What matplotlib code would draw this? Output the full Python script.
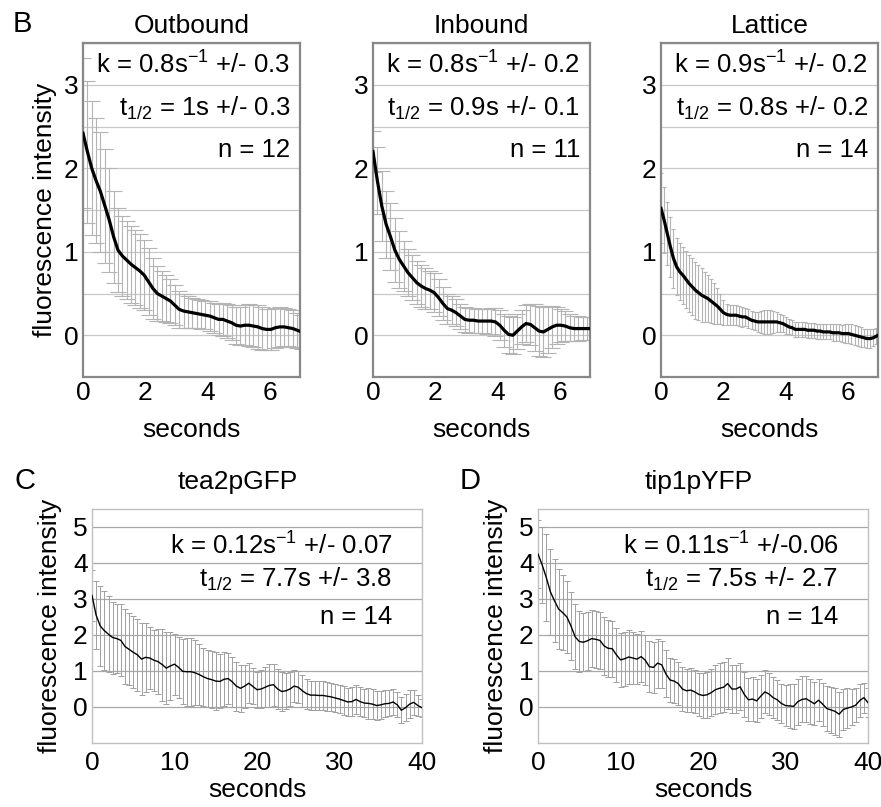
# FRAP style recovery curves, panels B/C/D
import numpy as np
import matplotlib
matplotlib.use('Agg')
import matplotlib.pyplot as plt

plt.rcParams['font.family'] = ['Liberation Sans', 'DejaVu Sans']
plt.rcParams['mathtext.fontset'] = 'custom'
plt.rcParams['mathtext.rm'] = 'Liberation Sans'

# ---- data ----
# top row, sampling times (s)
t_top = np.arange(51) * 0.14
t_lat = np.arange(71) * 0.1

out_mean = [2.42, 2.2, 2.0, 1.85, 1.72, 1.55, 1.38, 1.18, 1.02, 0.95,
            0.9, 0.85, 0.81, 0.77, 0.72, 0.64, 0.56, 0.5, 0.47, 0.44,
            0.41, 0.36, 0.31, 0.29, 0.28, 0.27, 0.26, 0.25, 0.24, 0.23,
            0.21, 0.19, 0.19, 0.17, 0.15, 0.12, 0.11, 0.12, 0.12, 0.11,
            0.1, 0.08, 0.07, 0.07, 0.09, 0.1, 0.1, 0.09, 0.08, 0.06,
            0.04]
out_err = [0.9, 0.85, 0.8, 0.75, 0.72, 0.68, 0.62, 0.55, 0.5, 0.48,
           0.47, 0.46, 0.45, 0.44, 0.42, 0.4, 0.36, 0.33, 0.3, 0.28,
           0.26, 0.24, 0.22, 0.2, 0.19, 0.18, 0.17, 0.17, 0.17, 0.18,
           0.18, 0.19, 0.2, 0.2, 0.21, 0.22, 0.23, 0.24, 0.25, 0.25,
           0.26, 0.26, 0.25, 0.25, 0.24, 0.24, 0.23, 0.22, 0.22, 0.21,
           0.2]

in_mean = [2.2, 1.85, 1.55, 1.33, 1.18, 1.02, 0.91, 0.83, 0.75, 0.69,
           0.63, 0.59, 0.56, 0.54, 0.51, 0.45, 0.38, 0.32, 0.3, 0.27,
           0.23, 0.19, 0.18, 0.18, 0.17, 0.17, 0.17, 0.17, 0.16, 0.12,
           0.06, 0.01, 0.0, 0.05, 0.1, 0.14, 0.13, 0.09, 0.05, 0.04,
           0.07, 0.1, 0.12, 0.12, 0.11, 0.09, 0.08, 0.08, 0.08, 0.08,
           0.08]
in_err = [0.25, 0.4, 0.42, 0.4, 0.4, 0.38, 0.34, 0.3, 0.28, 0.27,
          0.26, 0.25, 0.24, 0.23, 0.23, 0.22, 0.2, 0.18, 0.17, 0.16,
          0.15, 0.15, 0.15, 0.15, 0.14, 0.14, 0.15, 0.16, 0.17, 0.18,
          0.2, 0.22, 0.22, 0.21, 0.2, 0.22, 0.25, 0.28, 0.3, 0.3,
          0.28, 0.25, 0.22, 0.2, 0.18, 0.16, 0.15, 0.15, 0.14, 0.14,
          0.14]

lat_mean = [1.52, 1.38, 1.22, 1.06, 0.92, 0.82, 0.76, 0.72, 0.67, 0.62,
            0.58, 0.54, 0.51, 0.48, 0.46, 0.44, 0.41, 0.38, 0.35, 0.31,
            0.27, 0.25, 0.24, 0.24, 0.24, 0.23, 0.22, 0.22, 0.2, 0.18,
            0.17, 0.16, 0.16, 0.16, 0.16, 0.16, 0.16, 0.16, 0.15, 0.14,
            0.12, 0.1, 0.09, 0.07, 0.07, 0.07, 0.07, 0.06, 0.06, 0.06,
            0.05, 0.05, 0.04, 0.04, 0.04, 0.03, 0.03, 0.03, 0.02, 0.02,
            0.02, 0.01, 0.0, -0.01, -0.02, -0.03, -0.04, -0.04, -0.03, -0.01,
            0.01]
lat_err = [0.42, 0.4, 0.38, 0.36, 0.35, 0.34, 0.34, 0.34, 0.34, 0.34,
           0.34, 0.34, 0.33, 0.32, 0.3, 0.28, 0.26, 0.24, 0.21, 0.18,
           0.15, 0.13, 0.12, 0.12, 0.12, 0.12, 0.12, 0.11, 0.11, 0.11,
           0.11, 0.12, 0.13, 0.14, 0.14, 0.14, 0.13, 0.12, 0.11, 0.1,
           0.1, 0.09, 0.09, 0.09, 0.09, 0.09, 0.09, 0.09, 0.09, 0.09,
           0.09, 0.09, 0.09, 0.09, 0.09, 0.1, 0.1, 0.1, 0.1, 0.11,
           0.11, 0.12, 0.12, 0.12, 0.12, 0.11, 0.11, 0.11, 0.1, 0.1,
           0.1]

# bottom row, 0.5 s frames
t_bot = np.arange(81) * 0.5

tea_mean = [3.1, 2.55, 2.25, 2.12, 2.02, 1.93, 1.9, 1.85, 1.68, 1.6,
            1.52, 1.45, 1.33, 1.38, 1.36, 1.3, 1.26, 1.18, 1.08, 1.14,
            1.19, 1.1, 0.99, 0.98, 0.98, 0.95, 0.9, 0.84, 0.79, 0.76,
            0.72, 0.71, 0.77, 0.79, 0.7, 0.58, 0.52, 0.58, 0.66, 0.57,
            0.48, 0.5, 0.55, 0.6, 0.62, 0.5, 0.43, 0.45, 0.5, 0.58,
            0.55, 0.45, 0.37, 0.33, 0.33, 0.32, 0.32, 0.3, 0.28, 0.25,
            0.22, 0.18, 0.14, 0.15, 0.21, 0.15, 0.11, 0.1, 0.08, 0.04,
            0.06, 0.09, 0.1, 0.14, 0.06, -0.09, -0.02, 0.08, 0.13, 0.04,
            -0.02]
tea_err = [0.7, 0.95, 1.1, 1.1, 1.05, 1.0, 0.95, 1.0, 1.05, 1.0,
           1.0, 1.0, 1.0, 0.95, 0.85, 0.85, 0.9, 1.0, 1.0, 0.95,
           0.85, 0.85, 0.9, 0.95, 0.95, 0.9, 0.85, 0.8, 0.8, 0.8,
           0.8, 0.75, 0.75, 0.72, 0.7, 0.68, 0.65, 0.6, 0.55, 0.5,
           0.5, 0.52, 0.55, 0.6, 0.58, 0.55, 0.55, 0.5, 0.48, 0.45,
           0.45, 0.45, 0.42, 0.4, 0.4, 0.4, 0.4, 0.4, 0.4, 0.4,
           0.4, 0.4, 0.4, 0.4, 0.4, 0.4, 0.4, 0.42, 0.42, 0.4,
           0.38, 0.38, 0.36, 0.35, 0.35, 0.36, 0.38, 0.38, 0.35, 0.3,
           0.25]

tip_mean = [4.25, 3.95, 3.6, 3.2, 2.95, 2.72, 2.62, 2.5, 2.25, 1.95,
            1.82, 1.8, 1.84, 1.9, 1.88, 1.85, 1.7, 1.63, 1.62, 1.45,
            1.31, 1.34, 1.39, 1.36, 1.33, 1.4, 1.3, 1.12, 1.1, 1.22,
            1.17, 0.92, 0.75, 0.72, 0.65, 0.5, 0.45, 0.47, 0.42, 0.35,
            0.32, 0.34, 0.4, 0.48, 0.52, 0.55, 0.65, 0.5, 0.5, 0.56,
            0.35, 0.2, 0.22, 0.17, 0.3, 0.42, 0.36, 0.26, 0.2, 0.1,
            0.04, 0.03, 0.02, 0.15, 0.21, 0.23, 0.16, 0.09, 0.19, 0.08,
            -0.04, -0.08, -0.12, -0.2, -0.07, -0.03, 0.0, 0.05, 0.18, 0.26,
            0.12]
tip_err = [0.95, 1.05, 1.2, 1.2, 1.15, 1.1, 1.05, 1.0, 0.95, 0.9,
           0.85, 0.8, 0.8, 0.8, 0.8, 0.8, 0.8, 0.8, 0.78, 0.75,
           0.75, 0.75, 0.75, 0.72, 0.7, 0.7, 0.7, 0.7, 0.7, 0.68,
           0.65, 0.65, 0.62, 0.6, 0.6, 0.6, 0.6, 0.6, 0.6, 0.6,
           0.62, 0.64, 0.66, 0.68, 0.7, 0.7, 0.7, 0.68, 0.66, 0.65,
           0.62, 0.6, 0.6, 0.6, 0.6, 0.6, 0.58, 0.56, 0.55, 0.55,
           0.58, 0.6, 0.62, 0.64, 0.64, 0.64, 0.62, 0.6, 0.58, 0.6,
           0.62, 0.64, 0.65, 0.62, 0.58, 0.55, 0.5, 0.48, 0.45, 0.42,
           0.4]

top_titles = ['Outbound', 'Inbound', 'Lattice']
top_k = [r'k = 0.8s$\mathregular{^{-1}}$ +/- 0.3',
         r'k = 0.8s$\mathregular{^{-1}}$ +/- 0.2',
         r'k = 0.9s$\mathregular{^{-1}}$ +/- 0.2']
top_half = [r't$\mathregular{_{1/2}}$ = 1s +/- 0.3',
            r't$\mathregular{_{1/2}}$ = 0.9s +/- 0.1',
            r't$\mathregular{_{1/2}}$ = 0.8s +/- 0.2']
top_n = ['n = 12', 'n = 11', 'n = 14']

bot_titles = ['tea2pGFP', 'tip1pYFP']
bot_k = [r'k = 0.12s$\mathregular{^{-1}}$ +/- 0.07',
         r'k = 0.11s$\mathregular{^{-1}}$ +/-0.06']
bot_half = [r't$\mathregular{_{1/2}}$ = 7.7s +/- 3.8',
            r't$\mathregular{_{1/2}}$ = 7.5s +/- 2.7']
bot_n = ['n = 14', 'n = 14']

FS = 19
AFS = 18.5
fig = plt.figure(figsize=(8.81, 8.07), dpi=100)

# ---- top row ----
top_data = [(t_top, out_mean, out_err, 6),
            (t_top, in_mean, in_err, 6),
            (t_lat, lat_mean, lat_err, 1.5)]
lefts = [83, 373, 661]
for i in range(3):
    t, m, e, cap = top_data[i]
    ax = fig.add_axes([lefts[i] / 881, 1 - 377 / 807, 217 / 881, 334 / 807])
    for yy in np.arange(0, 3.51, 0.5):
        ax.axhline(yy, color='#c8c8c8', lw=0.9, zorder=0)
    ax.errorbar(t, m, yerr=e, fmt='none', ecolor='#b4b4b4', elinewidth=0.8,
                capsize=cap, capthick=0.8, zorder=1)
    ax.plot(t, m, color='black', lw=2.3, zorder=3)
    ax.set_xlim(0, 6.95)
    ax.set_ylim(-0.5, 3.5)
    ax.set_xticks([0, 2, 4, 6])
    ax.set_yticks([0, 1, 2, 3])
    ax.tick_params(labelsize=FS, length=0, pad=3)
    for s in ax.spines.values():
        s.set_color('#888888')
        s.set_linewidth(1.6)
    ax.set_title(top_titles[i], fontsize=FS, pad=7)
    ax.set_xlabel('seconds', fontsize=FS, labelpad=9)
    if i == 0:
        ax.set_ylabel('fluorescence intensity', fontsize=FS, labelpad=5)
    ax.text(0.955, 0.934, top_k[i], transform=ax.transAxes, ha='right', va='center', fontsize=AFS)
    ax.text(0.955, 0.805, top_half[i], transform=ax.transAxes, ha='right', va='center', fontsize=AFS)
    ax.text(0.955, 0.68, top_n[i], transform=ax.transAxes, ha='right', va='center', fontsize=AFS)

# ---- bottom row ----
bot_data = [(tea_mean, tea_err), (tip_mean, tip_err)]
blefts = [92, 538]
title_x = [238, 699]
for i in range(2):
    m, e = bot_data[i]
    ax = fig.add_axes([blefts[i] / 881, 1 - 743 / 807, 330 / 881, 234 / 807])
    for yy in range(0, 6):
        ax.axhline(yy, color='#a8a8a8', lw=0.9, zorder=0)
    ax.errorbar(t_bot, m, yerr=e, fmt='none', ecolor='#a0a0a0', elinewidth=0.7,
                capsize=2.5, capthick=0.7, zorder=1)
    ax.plot(t_bot, m, color='black', lw=1.0, zorder=3)
    ax.set_xlim(0, 40)
    ax.set_ylim(-1, 5.5)
    ax.set_xticks([0, 10, 20, 30, 40])
    ax.set_yticks([0, 1, 2, 3, 4, 5])
    ax.tick_params(axis='x', labelsize=FS, length=0, pad=6)
    ax.tick_params(axis='y', labelsize=FS, length=0, pad=3)
    for s in ax.spines.values():
        s.set_color('#c0c0c0')
        s.set_linewidth(1.0)
    ax.set_xlabel('seconds', fontsize=FS, labelpad=2)
    ax.set_ylabel('fluorescence intensity', fontsize=FS, labelpad=8)
    ax.text(0.91, 0.842, bot_k[i], transform=ax.transAxes, ha='right', va='center', fontsize=AFS)
    ax.text(0.91, 0.70, bot_half[i], transform=ax.transAxes, ha='right', va='center', fontsize=AFS)
    ax.text(0.91, 0.54, bot_n[i], transform=ax.transAxes, ha='right', va='center', fontsize=AFS)
    fig.text(title_x[i] / 881, 1 - 482 / 807, bot_titles[i], ha='center', va='center', fontsize=FS)

# panel letters
fig.text(22 / 881, 1 - 24 / 807, 'B', ha='center', va='center', fontsize=FS + 2)
fig.text(25 / 881, 1 - 481 / 807, 'C', ha='center', va='center', fontsize=FS + 2)
fig.text(470 / 881, 1 - 481 / 807, 'D', ha='center', va='center', fontsize=FS + 2)

plt.savefig('out.png', dpi=100)
